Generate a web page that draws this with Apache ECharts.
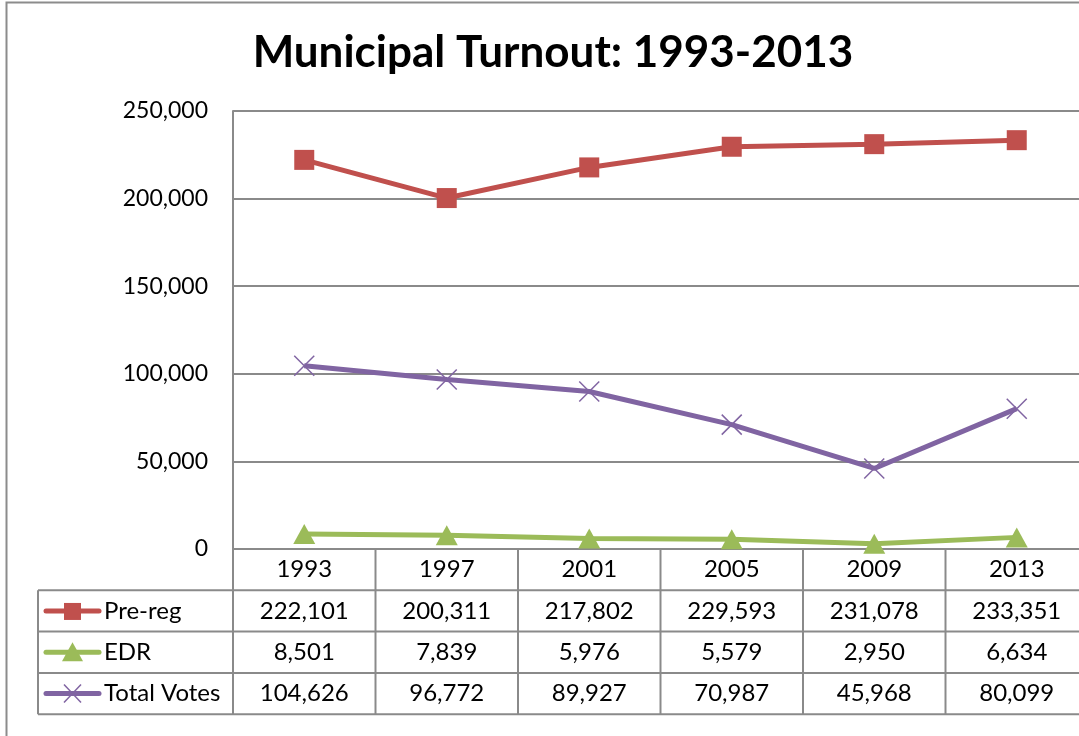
<!DOCTYPE html>
<html>
<head>
<meta charset="utf-8">
<script src="https://cdn.jsdelivr.net/npm/echarts@6/dist/echarts.min.js"></script>
<style>
html,body{margin:0;padding:0;overflow:hidden;background:#fff;}
#c{width:1100px;height:736px;}
</style>
</head>
<body>
<div id="c"></div>
<script>
var years = ['1993','1997','2001','2005','2009','2013'];
var preReg = [222101,200311,217802,229593,231078,233351];
var edr = [8501,7839,5976,5579,2950,6634];
var totalVotes = [104626,96772,89927,70987,45968,80099];
var seriesNames = ['Pre-reg','EDR','Total Votes'];
var yTicks = {min:0, max:250000, interval:50000};

var RED='#C0504D', GREEN='#9BBB59', PURPLE='#8064A2', GRID='#8A8A8A';
var FONT='Lato';
var gLeft=233, gTop=111, gW=855, gH=438, rowH=41.3;
function fmt(v){return v.toString().replace(/\B(?=(\d{3})+(?!\d))/g, ',');}

var chart = echarts.init(document.getElementById('c'));
var graphics = [];
graphics.push({type:'rect', shape:{x:6.5,y:2.5,width:1200,height:800}, style:{fill:'none',stroke:'#8C8C8C',lineWidth:2}, silent:true, z:-1});
var bottom = gTop+gH;
var colW = gW/years.length;
for (var r=1;r<=4;r++){
  var y = bottom + r*rowH;
  graphics.push({type:'line', shape:{x1:38,y1:y,x2:gLeft+gW,y2:y}, style:{stroke:GRID,lineWidth:2}});
}
graphics.push({type:'line', shape:{x1:38,y1:bottom+rowH,x2:38,y2:bottom+4*rowH}, style:{stroke:GRID,lineWidth:2}});
for (var i=0;i<=years.length;i++){
  var x = gLeft + i*colW;
  graphics.push({type:'line', shape:{x1:x,y1:bottom,x2:x,y2:bottom+4*rowH}, style:{stroke:GRID,lineWidth:2}});
}
var colors=[RED,GREEN,PURPLE];
for (var s=0;s<3;s++){
  var cy = bottom + (s+1.5)*rowH;
  graphics.push({type:'line', shape:{x1:46,y1:cy,x2:99,y2:cy}, style:{stroke:colors[s],lineWidth:5,lineCap:'round'}});
  if (s===0) graphics.push({type:'rect', shape:{x:64,y:cy-8,width:17,height:17}, style:{fill:RED}});
  if (s===1) graphics.push({type:'polygon', shape:{points:[[72.5,cy-10],[62,cy+9],[83,cy+9]]}, style:{fill:GREEN}});
  if (s===2) {
    graphics.push({type:'line', shape:{x1:64,y1:cy-9,x2:81,y2:cy+9}, style:{stroke:PURPLE,lineWidth:1.5}});
    graphics.push({type:'line', shape:{x1:64,y1:cy+9,x2:81,y2:cy-9}, style:{stroke:PURPLE,lineWidth:1.5}});
  }
  graphics.push({type:'text', x:104, y:cy, style:{text:seriesNames[s], font:'24px '+FONT, fill:'#000', verticalAlign:'middle', align:'left'}});
}

chart.setOption({
  animation:false,
  title:{text:'Municipal Turnout: 1993-2013', left:548, textAlign:'center', top:26,
    textStyle:{fontFamily:FONT, fontWeight:'bold', fontSize:44, color:'#000'}},
  grid:{left:gLeft, top:gTop, width:gW, height:gH, containLabel:false},
  xAxis:{type:'category', data:years, boundaryGap:true,
    axisLine:{show:true, lineStyle:{color:GRID, width:2}},
    axisTick:{show:false},
    axisLabel:{interval:0, margin:0, fontFamily:FONT, fontSize:24, color:'#000', lineHeight:rowH, verticalAlign:'top',
      formatter:function(v, idx){ return [v, fmt(preReg[idx]), fmt(edr[idx]), fmt(totalVotes[idx])].join('\n'); }},
    splitLine:{show:false}},
  yAxis:{type:'value', min:yTicks.min, max:yTicks.max, interval:yTicks.interval,
    axisLine:{show:true, lineStyle:{color:GRID, width:2}},
    axisTick:{show:false},
    axisLabel:{margin:25, fontFamily:FONT, fontSize:23, color:'#000', formatter:function(v){return fmt(v);}},
    splitLine:{show:true, lineStyle:{color:GRID, width:2}}},
  series:[
    {name:seriesNames[0], type:'line', data:preReg, symbol:'rect', symbolSize:20,
      lineStyle:{color:RED,width:5}, itemStyle:{color:RED}},
    {name:seriesNames[1], type:'line', data:edr, symbol:'triangle', symbolSize:[22,20],
      lineStyle:{color:GREEN,width:5}, itemStyle:{color:GREEN}},
    {name:seriesNames[2], type:'line', data:totalVotes, symbol:'path://M0,0L20,20M20,0L0,20', symbolSize:20,
      lineStyle:{color:PURPLE,width:5}, itemStyle:{color:'none', borderColor:PURPLE, borderWidth:1.5}}
  ],
  graphic:graphics
});
</script>
</body>
</html>
